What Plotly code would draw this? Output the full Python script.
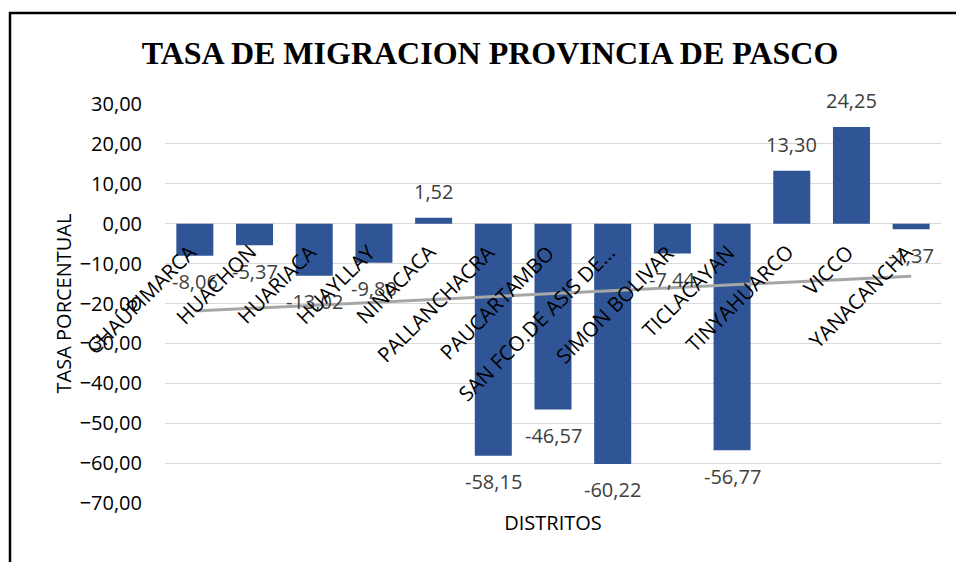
import numpy as np
import plotly.graph_objects as go

distritos = ["CHAUPIMARCA", "HUACHON", "HUARIACA", "HUAYLLAY", "NINACACA",
             "PALLANCHACRA", "PAUCARTAMBO", "SAN FCO.DE ASIS DE...",
             "SIMON BOLIVAR", "TICLACAYAN", "TINYAHUARCO", "VICCO", "YANACANCHA"]
tasa = [-8.06, -5.37, -13.02, -9.80, 1.52, -58.15, -46.57, -60.22,
        -7.44, -56.77, 13.30, 24.25, -1.37]
y_ticks = [30, 20, 10, 0, -10, -20, -30, -40, -50, -60, -70]

BAR = "#2F5597"
FONT = "Open Sans"

# linear trendline (least squares over category index)
idx = np.arange(1, len(tasa) + 1)
slope, intercept = np.polyfit(idx, tasa, 1)
trend = slope * idx + intercept

fig = go.Figure()
fig.add_trace(go.Bar(x=distritos, y=tasa, marker_color=BAR,
                     marker_line_width=0, showlegend=False, hoverinfo="x+y"))
fig.add_trace(go.Scatter(x=[distritos[0], distritos[-1]], y=[trend[0], trend[-1]],
                         mode="lines", line=dict(color="#A6A6A6", width=3),
                         showlegend=False, hoverinfo="skip"))

annotations = []
for d, v in zip(distritos, tasa):
    annotations.append(dict(x=d, y=v, xref="x", yref="y",
                            text=f"{v:.2f}".replace(".", ","),
                            showarrow=False, yanchor="middle", xanchor="center",
                            yshift=26 if v >= 0 else -26,
                            font=dict(family=FONT, size=20, color="#404040")))
for d in distritos:
    annotations.append(dict(x=d, y=0, xref="x", yref="y", text=d,
                            textangle=-45, showarrow=False,
                            xanchor="right", yanchor="top",
                            xshift=10, yshift=-12,
                            font=dict(family=FONT, size=20.5, color="#000000")))

fig.update_layout(
    width=956, height=562,
    margin=dict(l=165, r=15, t=104, b=59),
    paper_bgcolor="white", plot_bgcolor="white",
    separators=",.",
    bargap=0.38,
    title=dict(text="<b>TASA DE MIGRACION PROVINCIA DE PASCO</b>",
               x=490 / 956, xanchor="center", y=1 - 53 / 562, yanchor="middle",
               font=dict(family="Liberation Serif", size=32, color="#000000")),
    xaxis=dict(range=[-0.5, len(distritos) - 0.5], autorange=False,
               showticklabels=False, showgrid=False, zeroline=False,
               showline=False, ticks="",
               title=dict(text="DISTRITOS", standoff=12,
                          font=dict(family=FONT, size=20, color="#000000"))),
    yaxis=dict(range=[-70, 30], autorange=False, tickvals=y_ticks, tickformat=".2f",
               showgrid=True, gridcolor="#D9D9D9", gridwidth=1,
               zeroline=False, showline=False, ticks="",
               ticklabelstandoff=22,
               tickfont=dict(family=FONT, size=20, color="#000000"),
               title=dict(text="TASA PORCENTUAL", standoff=2,
                          font=dict(family=FONT, size=20, color="#000000"))),
    annotations=annotations,
    shapes=[dict(type="rect", xref="paper", yref="paper",
                 x0=(10 - 165) / 776, x1=(962 - 165) / 776,
                 y0=(503 - 570) / 399, y1=(503 - 13) / 399,
                 line=dict(color="#000000", width=2.5), fillcolor="rgba(0,0,0,0)",
                 layer="above")],
)

fig.write_html("out.html", config={"displayModeBar": False},
               post_script="document.body.style.margin='0';")
